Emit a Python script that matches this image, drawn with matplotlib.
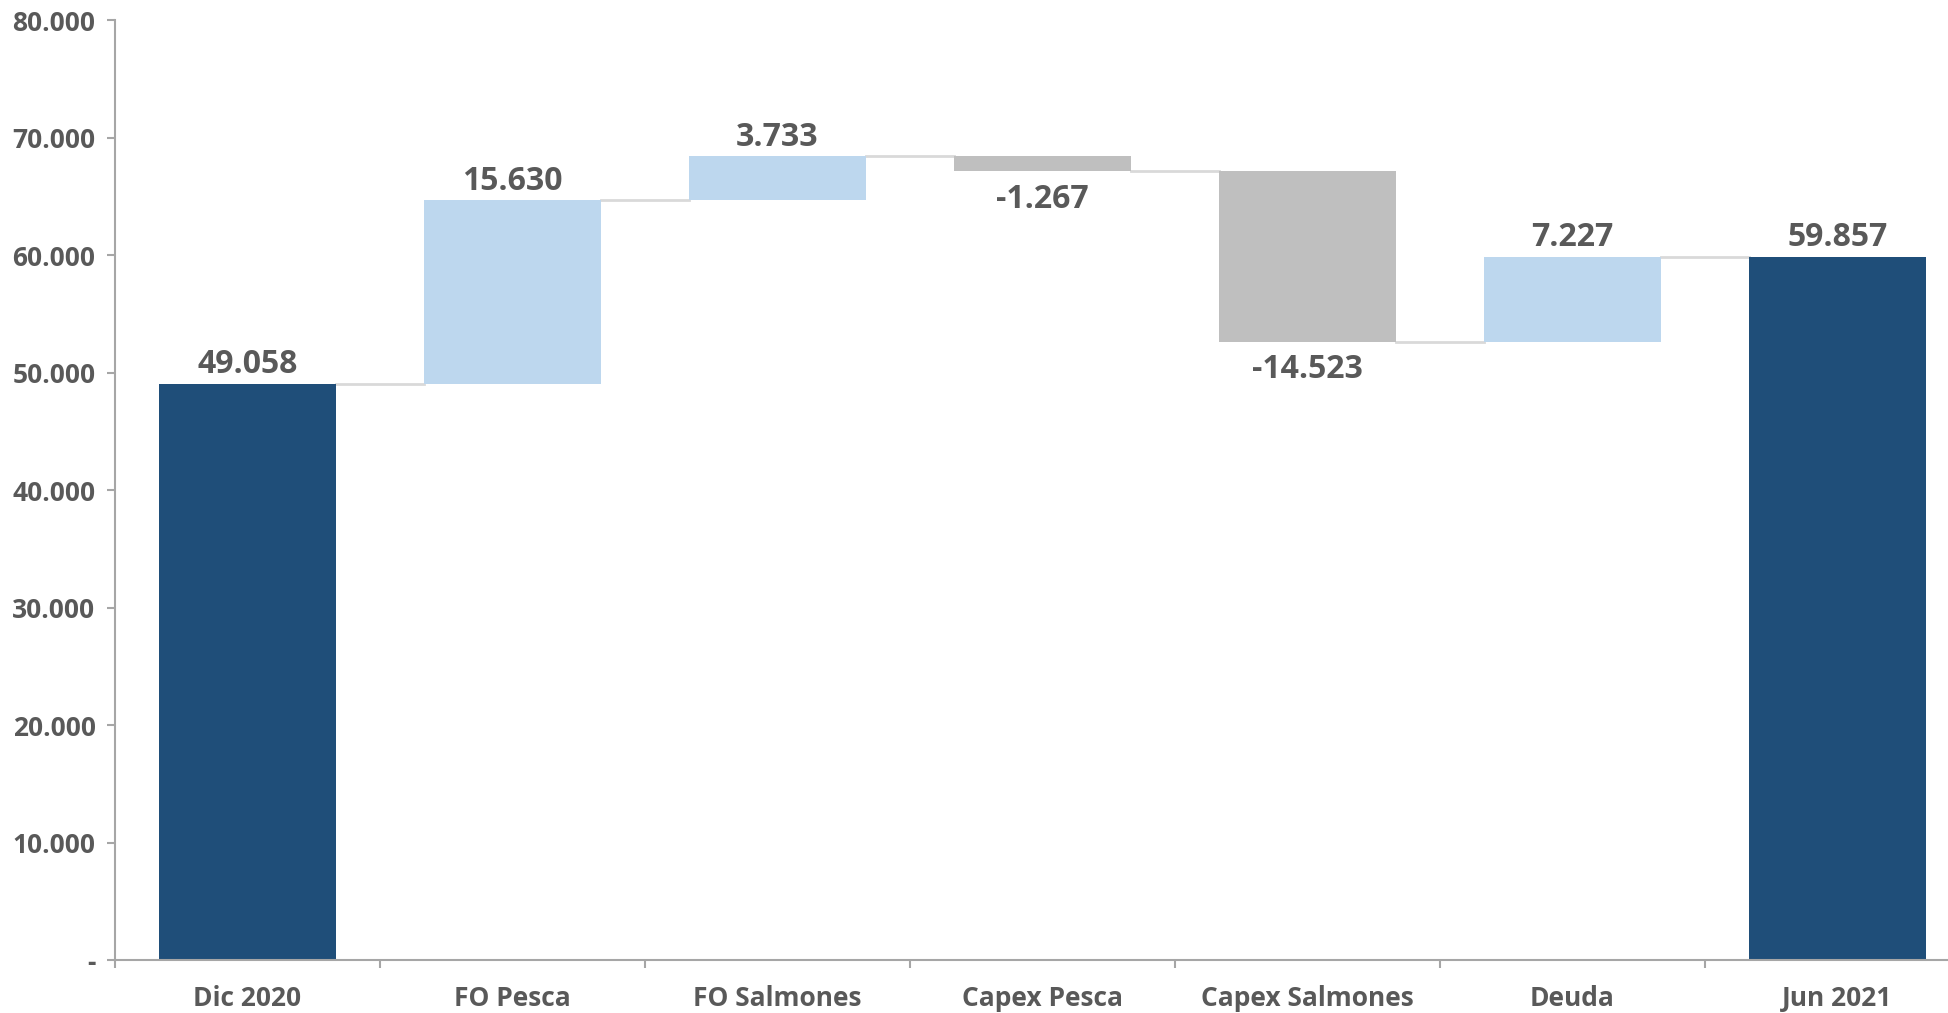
import matplotlib.pyplot as plt
from matplotlib.ticker import FuncFormatter, FixedLocator
import numpy as np

categories = ['Dic 2020', 'FO Pesca', 'FO Salmones', 'Capex Pesca',
              'Capex Salmones', 'Deuda', 'Jun 2021']
values = [49058, 15630, 3733, -1267, -14523, 7227, 59857]
kinds = ['total', 'delta', 'delta', 'delta', 'delta', 'delta', 'total']

c_total = '#1F4E79'
c_up = '#BDD7EE'
c_down = '#BFBFBF'
c_text = '#595959'
c_axis = '#A6A6A6'

plt.rcParams['font.family'] = ['Open Sans', 'DejaVu Sans']

fig = plt.figure(figsize=(19.49, 10.13), dpi=100)
ax = fig.add_axes([115 / 1949, 53 / 1013, 1855 / 1949, 940 / 1013])

# running totals for waterfall
bottoms, heights, colors = [], [], []
run = 0
for v, k in zip(values, kinds):
    if k == 'total':
        bottoms.append(0)
        heights.append(v)
        colors.append(c_total)
        run = v
    else:
        if v >= 0:
            bottoms.append(run)
            colors.append(c_up)
        else:
            bottoms.append(run + v)
            colors.append(c_down)
        heights.append(abs(v))
        run = run + v

x = np.arange(len(categories)) + 0.5
w = 0.665
ax.bar(x, heights, bottom=bottoms, width=w, color=colors, zorder=2)

# connector lines
levels = []
run = 0
for v, k in zip(values, kinds):
    run = v if k == 'total' else run + v
    levels.append(run)
for i in range(len(categories) - 1):
    ax.plot([x[i] + w / 2, x[i + 1] - w / 2], [levels[i], levels[i]],
            color='#D9D9D9', lw=2, zorder=1)


def fmt(v):
    s = f'{abs(v):,.0f}'.replace(',', '.')
    return ('-' if v < 0 else '') + s


for i, (v, k) in enumerate(zip(values, kinds)):
    top = bottoms[i] + heights[i]
    if v >= 0:
        ax.text(x[i], top + 200, fmt(v), ha='center', va='bottom',
                fontsize=23, fontweight='bold', color=c_text)
    else:
        ax.text(x[i], bottoms[i] - 1000, fmt(v), ha='center', va='top',
                fontsize=23, fontweight='bold', color=c_text)

ax.set_xlim(0, len(categories))
ax.set_ylim(0, 80000)
ax.set_xticks(x)
ax.set_xticklabels(categories)
ax.xaxis.set_minor_locator(FixedLocator(np.arange(len(categories) + 1)))
ax.tick_params(axis='x', which='major', length=0, pad=18, labelsize=19,
               labelcolor=c_text)
ax.tick_params(axis='x', which='minor', length=6, width=1.5, color=c_axis,
               direction='out')
ax.set_yticks(np.arange(0, 80001, 10000))
ax.yaxis.set_major_formatter(FuncFormatter(lambda v, p: '-' if v == 0 else fmt(v)))
ax.tick_params(axis='y', length=6, width=1.5, color=c_axis, labelsize=19,
               labelcolor=c_text, pad=8)
for lab in ax.get_xticklabels() + ax.get_yticklabels():
    lab.set_fontweight('bold')

for s in ['top', 'right']:
    ax.spines[s].set_visible(False)
for s in ['left', 'bottom']:
    ax.spines[s].set_color(c_axis)
    ax.spines[s].set_linewidth(1.5)

fig.savefig('out.png', dpi=100)
